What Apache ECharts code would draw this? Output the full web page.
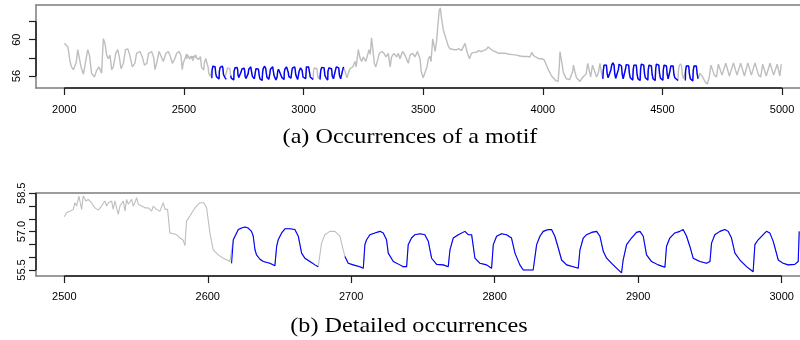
<!DOCTYPE html>
<html><head><meta charset="utf-8">
<script src="https://cdn.jsdelivr.net/npm/echarts@6/dist/echarts.min.js"></script>
<style>html,body{margin:0;padding:0;background:#fff}#c{width:800px;height:340px}</style>
</head><body><div id="c"></div>
<script>
// time series samples [t, value]
const series = [
[2000,59.6],[2008,59.4],[2015,59.2],[2024,57.6],[2030,57.0],[2038,56.7],[2046,56.6],[2050,57.5],[2056,58.9],[2062,58.7],[2070,57.0],[2080,56.2],[2088,56.4],[2098,58.9],[2105,58.3],[2114,56.3],[2126,55.9],[2135,56.6],[2145,57.0],[2156,56.3],[2163,60.1],[2170,59.6],[2177,58.3],[2184,57.9],[2191,58.3],[2198,56.7],[2205,57.0],[2215,58.5],[2223,58.9],[2230,58.1],[2237,56.8],[2247,57.4],[2256,58.9],[2265,59.0],[2274,58.3],[2284,57.0],[2295,57.4],[2302,58.5],[2316,58.7],[2326,58.1],[2335,57.2],[2345,57.4],[2352,58.5],[2365,58.7],[2374,58.0],[2379,56.7],[2386,57.4],[2396,58.7],[2404,58.5],[2414,57.6],[2425,58.5],[2435,58.7],[2444,58.1],[2452,57.4],[2460,57.8],[2470,58.5],[2480,58.7],[2488,58.2],[2493,56.7],[2497,57.4],
[2500,57.58],[2501.6,57.74],[2503.9,57.80],[2506.3,57.87],[2507.4,58.13],[2508.6,58.00],[2510.2,58.39],[2512.1,57.87],[2513.2,58.39],[2515.1,58.20],[2516.7,58.26],[2519,58.13],[2521.4,57.93],[2523.7,57.84],[2526,58.00],[2528.3,58.20],[2529.5,58.00],[2530.7,58.13],[2533,58.20],[2534.1,57.87],[2535.3,58.20],[2537.6,57.67],[2538.8,58.00],[2541.1,58.20],[2542.3,57.80],[2543.4,58.26],[2544.6,58.07],[2546.9,58.26],[2548.1,58.00],[2549.2,58.13],[2550.4,58.33],[2551.6,58.07],[2553.9,58.00],[2556.2,57.93],[2558.5,57.93],[2560.9,57.80],[2562,58.00],[2564.3,57.87],[2566.7,57.80],[2569,58.13],[2570.2,57.87],[2572,57.87],[2573.6,56.95],[2576,56.92],[2578.3,56.88],[2580.6,56.75],[2582.9,56.66],[2584.1,56.45],[2585.2,57.41],[2587.6,57.61],[2591.1,57.93],[2594.5,58.13],[2597.3,58.13],[2599.2,57.93],[2601.5,56.95],[2603.8,56.29],[2607.3,56.09],[2610.8,55.96],[2615.4,55.83],[2616.6,55.76],
[2617.8,56.68],[2618.9,56.75],[2621.3,57.08],[2623.6,57.14],[2625.9,57.18],[2627.1,57.24],[2628.2,57.14],[2629.4,57.21],[2630.5,57.01],[2631.7,56.82],[2632.9,56.29],[2634,56.09],[2636.4,55.92],[2638.7,55.83],[2643.3,55.76],[2646.8,55.67],[2648,56.42],[2649.1,56.68],[2651.5,56.95],[2653.8,57.11],[2657.3,57.11],[2660.7,57.08],[2663.1,56.82],[2665.4,56.16],[2667.7,55.96],[2671.2,55.83],[2674.7,55.70],[2677,55.63],[2679.3,56.55],[2681.6,56.88],[2685.1,57.01],[2688.6,57.01],[2692.1,56.82],[2694.4,56.29],[2695.6,56.03],[2697.9,55.76],[2701.4,55.70],[2706,55.63],[2708.4,55.57],[2709.5,56.49],[2710.7,56.68],[2713,56.88],[2716.5,56.95],[2720,57.01],[2722.3,56.95],[2724.6,56.68],[2725.8,56.16],[2729.3,55.83],[2733.9,55.70],[2736.2,55.63],[2738.6,55.63],[2739.7,56.49],[2742,56.75],[2744.4,56.88],[2747.9,56.92],[2751.3,56.88],[2753.7,56.62],[2756,55.96],[2759.5,55.72],[2764.1,55.70],[2767.6,55.63],[2768.8,56.29],[2771.1,56.75],[2774.6,56.88],[2779.2,57.01],[2781.5,56.88],[2783.9,56.88],[2786.2,55.96],[2789.7,55.76],[2794.3,55.70],[2797.8,55.57],[2799,56.49],[2801.3,56.82],[2804.8,56.92],[2808.2,56.88],[2811.7,56.75],[2814.1,56.16],[2817.5,55.70],[2819.9,55.50],[2826.8,55.50],[2829.2,56.49],[2831.5,56.82],[2833.8,57.01],[2837.3,57.08],[2839.6,57.08],[2841.9,56.82],[2844.3,56.36],[2846.6,55.89],[2850.1,55.70],[2854.7,55.63],[2858.2,55.57],[2859.4,56.29],[2861.7,56.75],[2864,56.88],[2867.5,56.97],[2871,57.01],[2873.3,56.82],[2875.7,56.22],[2878,55.96],[2881.5,55.76],[2884.9,55.57],[2888.4,55.39],[2889.5,55.89],[2891.9,56.49],[2895.3,56.75],[2898.8,56.97],[2901.2,57.01],[2903.5,56.82],[2905.8,56.09],[2909.3,55.83],[2913.9,55.70],[2918.6,55.61],[2919.7,56.42],[2922,56.75],[2925.5,56.95],[2929,57.01],[2931.3,57.08],[2933.7,56.82],[2936,56.42],[2938.3,55.96],[2943,55.83],[2947.6,55.76],[2950,55.83],[2951.1,56.55],[2953.4,56.88],[2956.9,57.01],[2960.4,57.08],[2962.7,57.01],[2965,56.75],[2967.4,56.16],[2970.9,55.89],[2975.5,55.63],[2980.1,55.43],[2981.3,56.49],[2983.6,56.68],[2987.1,56.88],[2989.4,57.01],[2991.7,56.95],[2994.1,56.62],[2997.6,55.89],[3001,55.76],[3004.5,55.70],[3009.1,55.72],[3011.5,55.83],[3012.2,57.01],
[3016,57.05],[3021,57.0],[3025,56.4],[3028,55.9],[3034,55.75],[3040,55.62],[3042,56.6],[3046,56.9],[3052,57.0],[3056,56.8],[3059,56.0],[3064,55.7],[3069,55.6],[3072,56.6],[3076,56.95],[3082,57.1],[3086,56.9],[3089,56.1],[3094,55.8],[3101,55.55],[3102,56.5],[3106,56.9],[3112,57.0],[3117,56.8],[3120,56.0],[3125,55.7],[3132,55.6],[3133,56.6],[3137,57.0],[3143,57.1],[3147,56.9],[3150,56.1],[3155,55.7],[3162,55.6],[3163,56.6],[3167,57.0],[3172,57.0],[3176,56.3],[3181,55.8],[3187,55.7],
[3194,56.8],[3200,56.6],[3206,57.0],[3215,57.6],[3220,57.0],[3229,58.9],[3236,58.0],[3243,57.6],[3250,58.1],[3260,57.6],[3268,57.8],[3274,58.9],[3279,58.4],[3284,60.2],[3290,58.9],[3296,57.4],[3302,57.0],[3309,57.2],[3317,58.5],[3327,58.7],[3336,58.5],[3345,58.1],[3354,58.5],[3362,57.0],[3368,58.1],[3378,58.5],[3389,58.1],[3396,58.5],[3403,57.9],[3414,58.7],[3424,58.3],[3431,58.5],[3438,57.4],[3445,58.3],[3456,58.5],[3466,58.1],[3476,58.7],[3487,57.9],[3492,56.5],[3500,55.8],[3508,55.7],[3516,57.0],[3522,57.9],[3528,58.2],[3533,57.6],[3540,60.1],[3546,59.3],[3550,58.7],[3556,59.8],[3561,61.4],[3567,63.2],[3572,63.5],[3577,62.3],[3584,61.1],[3591,60.9],[3598,59.9],[3605,59.3],[3612,59.0],[3620,59.2],[3630,58.9],[3640,58.9],[3650,59.0],[3660,58.8],[3668,58.9],[3675,59.6],[3681,58.9],[3688,58.3],[3694,57.9],[3702,58.5],[3712,58.6],[3722,58.6],[3732,58.8],[3742,58.7],[3752,58.8],[3762,58.9],[3772,59.2],[3780,59.0],[3790,58.8],[3800,58.7],[3815,58.5],[3830,58.5],[3845,58.5],[3860,58.4],[3875,58.35],[3890,58.3],[3905,58.2],[3920,58.15],[3935,58.15],[3946,58.1],[3954,58.6],[3960,58.3],[3970,58.1],[3985,57.9],[3995,57.9],[4005,57.8],[4012,57.4],[4023,56.7],[4037,56.0],[4054,55.5],[4064,55.4],[4069,57.0],[4072,58.7],[4077,57.9],[4086,56.4],[4098,55.7],[4112,55.6],[4120,55.5],[4125,56.5],[4128,57.2],[4134,56.5],[4141,55.8],[4156,55.4],[4163,55.7],[4172,56.0],[4181,56.2],[4188,57.4],[4193,57.6],[4200,55.9],[4208,57.2],[4215,57.4],[4225,55.9],[4232,56.3],[4239,57.4],[4246,56.3],[4251,55.7],
[4253,56.6],[4256,57.2],[4261,57.4],[4266,57.2],[4269,56.3],[4273,55.8],[4281,55.6],[4285,56.7],[4288,57.2],[4293,57.45],[4298,57.2],[4301,56.2],[4305,55.75],[4313,55.55],[4316,56.7],[4319,57.3],[4324,57.4],[4329,57.1],[4332,56.2],[4336,55.7],[4344,55.5],[4346,56.8],[4349,57.25],[4354,57.45],[4359,57.2],[4362,56.3],[4366,55.8],[4376,55.55],[4378,56.7],[4381,57.2],[4386,57.4],[4391,57.2],[4394,56.2],[4398,55.7],[4407,55.5],[4409,56.8],[4412,57.3],[4417,57.45],[4422,57.2],[4425,56.3],[4429,55.8],[4439,55.55],[4441,56.7],[4444,57.2],[4449,57.4],[4454,57.1],[4457,56.2],[4461,55.7],[4470,55.5],[4472,56.8],[4475,57.3],[4480,57.5],[4485,57.2],[4488,56.3],[4492,55.75],[4502,55.55],[4504,56.7],[4507,57.2],[4512,57.4],[4517,57.1],[4520,56.2],[4524,55.7],[4531,55.5],[4532,56.6],[4535,57.1],[4540,57.3],[4545,57.1],[4548,56.2],[4552,55.8],[4565,55.5],[4567,56.6],[4570,57.1],[4575,57.35],[4580,57.1],[4583,56.2],[4588,55.7],[4596,55.5],[4597,56.6],[4600,57.1],[4605,57.3],[4610,57.1],[4613,56.2],[4617,55.7],[4627,55.45],[4629,56.6],[4632,57.1],[4637,57.3],[4642,57.1],[4645,56.3],[4649,55.7],
[4657,56.3],[4668,55.9],[4678,55.4],[4688,55.1],[4696,55.9],[4703,57.2],[4710,57.35],[4717,56.1],[4726,55.9],[4734,57.3],[4740,57.4],[4749,56.1],[4757,55.9],[4765,57.4],[4771,57.3],[4780,56.0],[4788,55.9],[4797,57.45],[4803,57.3],[4812,56.1],[4820,55.9],[4827,57.4],[4834,57.3],[4843,56.0],[4851,55.9],[4857,57.45],[4863,57.3],[4872,56.1],[4880,55.9],[4887,57.45],[4893,57.4],[4902,56.1],[4911,55.9],[4919,57.3],[4925,57.2],[4934,56.0],[4942,55.9],[4950,57.4],[4956,57.3],[4965,56.1],[4973,55.9],[4980,57.3],[4985,57.2],[4991,56.0],[4994,55.9],[4997,57.3]
];
// motif occurrence intervals (blue)
const motifRanges = [[2616.5,2677.5],[2695,3041],[3068,3167],[4251,4566],[4596,4650]];
// detailed window
const detailRange = [2500, 3012.75];
// ticks and labels
const overviewTicksX = [2000,2500,3000,3500,4000,4500,5000];
const overviewTicksY = [56,58,60,62];
const overviewLabelsY = [56,60];
const detailTicksX = [2500,2600,2700,2800,2900,3000];
const detailTicksY = [55.5,56,56.5,57,57.5,58,58.5];
const detailLabelsY = [55.5,57,58.5];
const captions = ['(a) Occurrences of a motif', '(b) Detailed occurrences'];

const GRAY_LINE = '#bebebe', BLUE = '#0000ff', DARK = '#1e1e1e', BOX = '#7c7c7c';
const SANS = '"Liberation Sans", Arial, Helvetica, sans-serif';
const SERIF = '"Liberation Serif", "Times New Roman", serif';

const inMotif = t => motifRanges.some(r => t >= r[0] && t <= r[1]);
const overview = series;
const detail = series.filter(p => p[0] >= detailRange[0] && p[0] <= detailRange[1]);
const blueOf = d => d.map(p => [p[0], inMotif(p[0]) ? p[1] : null]);

const panels = [
  {x:[1881.7,5075.2], y:[54.68,63.82], tx:overviewTicksX, ty:overviewTicksY, ly:overviewLabelsY, top:5, ym:14, xm:16, fmt:v=>String(v), data:overview, w:1.4},
  {x:[2480.3,3012.75], y:[55.265,58.51], tx:detailTicksX, ty:detailTicksY, ly:detailLabelsY, top:193, ym:9, xm:15, fmt:v=>v.toFixed(1), data:detail, w:1.1}
];

const grid = [], xAxis = [], yAxis = [], seriesOpt = [];
panels.forEach((p, i) => {
  grid.push({left:36, top:p.top, width:764, height:83, containLabel:false, outerBoundsMode:'none', show:false});
  xAxis.push({type:'value', gridIndex:i, min:p.x[0], max:p.x[1], position:'bottom',
    axisLine:{show:true, onZero:false, lineStyle:{color:BOX, width:1.5}},
    axisTick:{show:true, length:7, customValues:p.tx, lineStyle:{color:DARK, width:1.2}},
    axisLabel:{show:true, customValues:p.tx, margin:p.xm, fontSize:11, fontFamily:SANS, color:'#000', formatter:v=>String(v)},
    splitLine:{show:false}});
  xAxis.push({type:'value', gridIndex:i, min:p.x[0], max:p.x[1], position:'top',
    axisLine:{show:true, onZero:false, lineStyle:{color:BOX, width:1.5}},
    axisTick:{show:false}, axisLabel:{show:false}, splitLine:{show:false}});
  yAxis.push({type:'value', gridIndex:i, min:p.y[0], max:p.y[1],
    axisLine:{show:true, onZero:false, lineStyle:{color:BOX, width:1.5}},
    axisTick:{show:true, length:7, customValues:p.ty, lineStyle:{color:DARK, width:1.2}},
    axisLabel:{show:true, customValues:p.ly, rotate:90, margin:p.ym, fontSize:11, fontFamily:SANS, color:'#000', formatter:p.fmt},
    splitLine:{show:false}});
  const xi = i*2;
  seriesOpt.push({type:'line', xAxisIndex:xi, yAxisIndex:i, data:p.data, symbol:'none', showSymbol:false,
    lineStyle:{color:GRAY_LINE, width:p.w}, animation:false, silent:true, z:2});
  seriesOpt.push({type:'line', xAxisIndex:xi, yAxisIndex:i, data:blueOf(p.data), symbol:'none', showSymbol:false, connectNulls:false,
    lineStyle:{color:BLUE, width:p.w}, animation:false, silent:true, z:3});
  // R-style axis lines spanning first..last tick
  seriesOpt.push({type:'line', xAxisIndex:xi, yAxisIndex:i, clip:false, symbol:'none', showSymbol:false,
    data:[[p.tx[0], p.y[0]],[p.tx[p.tx.length-1], p.y[0]]], lineStyle:{color:DARK, width:1.5}, animation:false, silent:true, z:5});
  seriesOpt.push({type:'line', xAxisIndex:xi, yAxisIndex:i, clip:false, symbol:'none', showSymbol:false,
    data:[[p.x[0], p.ty[0]],[p.x[0], p.ty[p.ty.length-1]]], lineStyle:{color:DARK, width:1.5}, animation:false, silent:true, z:5});
});

const chart = echarts.init(document.getElementById('c'), null, {renderer:'canvas'});
chart.setOption({
  backgroundColor:'#fff',
  animation:false,
  grid, xAxis, yAxis, series:seriesOpt,
  graphic:[
    {type:'text', x:410, y:137, scaleX:1.15, silent:true,
     style:{text:captions[0], x:0, y:0, align:'center', verticalAlign:'middle', textAlign:'center', textVerticalAlign:'middle', fontSize:21, fontFamily:SERIF, font:'21px '+SERIF, fill:'#000'}},
    {type:'text', x:409, y:326.5, scaleX:1.15, silent:true,
     style:{text:captions[1], x:0, y:0, align:'center', verticalAlign:'middle', textAlign:'center', textVerticalAlign:'middle', fontSize:21, fontFamily:SERIF, font:'21px '+SERIF, fill:'#000'}}
  ]
});
</script></body></html>
